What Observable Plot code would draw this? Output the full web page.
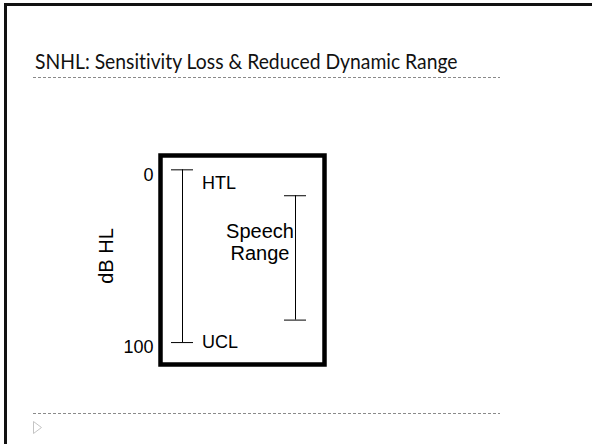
<!DOCTYPE html>
<html>
<head>
<meta charset="utf-8">
<script src="https://cdn.jsdelivr.net/npm/d3@7"></script>
<script src="https://cdn.jsdelivr.net/npm/@observablehq/plot@0.6"></script>
<style>
  html, body { margin: 0; padding: 0; background: #fff; }
  #slide { position: relative; width: 592px; height: 444px; overflow: hidden; background: #fff; }
  .bar { position: absolute; background: #111; }
  .dots { position: absolute; height: 1px;
    background-image: repeating-linear-gradient(to right, #8a8a8a 0 3px, transparent 3px 5px); }
  #title { position: absolute; left: 35px; top: 50px; font-family: Lato, "Open Sans", sans-serif;
    font-size: 21px; line-height: 21px; color: #111; white-space: nowrap;
    font-variant-ligatures: none;
    transform: scaleX(0.92); transform-origin: 0 0; }
  #chart { position: absolute; left: 0; top: 120px; }
  #bullet { position: absolute; left: 33px; top: 421px; }
</style>
</head>
<body>
<div id="slide">
  <div class="bar" style="left:4px;top:3px;width:588px;height:3px"></div>
  <div class="bar" style="left:4px;top:3px;width:3px;height:441px"></div>
  <div id="title"></div>
  <div class="dots" style="left:33px;top:77px;width:467px"></div>
  <div id="chart"></div>
  <div class="dots" style="left:33px;top:413px;width:467px"></div>
  <svg id="bullet" width="10" height="13"><path d="M0.5,0.5 L8.5,6.5 L0.5,12.5 Z" fill="none" stroke="#c4c4c4" stroke-width="1"/></svg>
</div>
<script>
const title = "SNHL: Sensitivity Loss & Reduced Dynamic Range";
const categories = ["Dynamic range", "Speech range"];
const lowValues = [0, 15];
const highValues = [100, 87];
const yTicks = [0, 100];
const yTickLabels = ["0", "100"];
const endLabels = ["HTL", "UCL"];
const speechLabel = "Speech\nRange";
const yLabel = "dB HL";

document.getElementById("title").textContent = title;

const ranges = categories.map((c, i) => ({category: c, lo: lowValues[i], hi: highValues[i]}));
const endpoints = ranges.flatMap(r => [{category: r.category, value: r.lo}, {category: r.category, value: r.hi}]);
const tickRows = yTicks.map((v, i) => ({value: v, label: yTickLabels[i]}));

const font = "'Liberation Sans', Arial, sans-serif";

const chart = Plot.plot({
  width: 592,
  height: 280,
  marginTop: 35,
  marginBottom: 36,
  marginLeft: 160,
  marginRight: 268,
  style: {fontFamily: font, fontSize: "18px", background: "transparent", color: "#000"},
  x: {type: "point", domain: categories, padding: 0.2256, align: 0.434, axis: null},
  y: {domain: [-8.3, 112.7], reverse: true, axis: null},
  marks: [
    Plot.ruleX(ranges, {x: "category", y1: "lo", y2: "hi", stroke: "black", strokeWidth: 1}),
    Plot.ruleY(endpoints, {x1: "category", x2: "category", y: "value", insetLeft: -11, insetRight: -11, stroke: "black", strokeWidth: 1}),
    Plot.text(tickRows, {y: "value", text: "label", frameAnchor: "left", textAnchor: "end", dx: -7, dy: 5, fill: "black", fontSize: 18}),
    Plot.text([yLabel], {text: d => d, frameAnchor: "left", textAnchor: "middle", lineAnchor: "middle", rotate: -90, dx: -54, dy: -4, fill: "black", fontSize: 20}),
    Plot.text([ranges[0]], {x: "category", y: "lo", text: () => endLabels[0], textAnchor: "start", dx: 19.5, dy: 13.6, fill: "black", fontSize: 18}),
    Plot.text([ranges[0]], {x: "category", y: "hi", text: () => endLabels[1], textAnchor: "start", dx: 19.5, dy: 0, fill: "black", fontSize: 18}),
    Plot.text([ranges[1]], {x: "category", y: d => (d.lo + d.hi) / 2, text: () => speechLabel, textAnchor: "middle", lineHeight: 1.1, dx: -35.5, dy: -16, fill: "black", fontSize: 20}),
    Plot.frame({stroke: "black", strokeWidth: 4.5})
  ]
});
document.getElementById("chart").appendChild(chart);
</script>
</body>
</html>
